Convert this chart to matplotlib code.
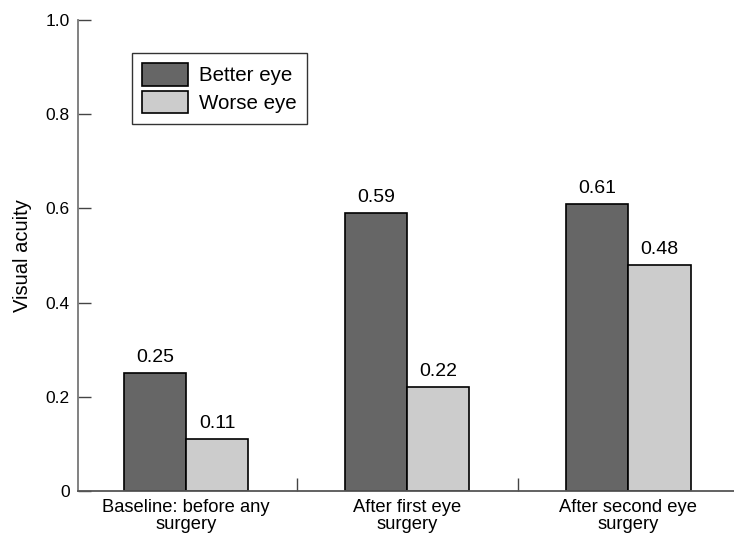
import matplotlib
matplotlib.use("Agg")
import matplotlib.pyplot as plt
import numpy as np

categories = ["Baseline: before any\nsurgery", "After first eye\nsurgery", "After second eye\nsurgery"]
series_names = ["Better eye", "Worse eye"]
better_eye = [0.25, 0.59, 0.61]
worse_eye = [0.11, 0.22, 0.48]
value_labels_better = ["0.25", "0.59", "0.61"]
value_labels_worse = ["0.11", "0.22", "0.48"]
y_ticks = [0, 0.2, 0.4, 0.6, 0.8, 1.0]
y_tick_labels = ["0", "0.2", "0.4", "0.6", "0.8", "1.0"]

plt.rcParams['font.family'] = ['Liberation Sans', 'DejaVu Sans']

fig = plt.figure(figsize=(7.34, 5.35), dpi=100)
ax = fig.add_axes([78/734, 44/535, 656/734, 471/535])

x = np.arange(len(categories))
w = 0.2817
dark = "#666666"
light = "#cccccc"
b1 = ax.bar(x - w/2, better_eye, w, color=dark, edgecolor="black", linewidth=1.2, label=series_names[0])
b2 = ax.bar(x + w/2, worse_eye, w, color=light, edgecolor="black", linewidth=1.2, label=series_names[1])

for rect, lab in zip(b1, value_labels_better):
    ax.annotate(lab, (rect.get_x() + rect.get_width()/2, rect.get_height()),
                xytext=(0, 5), textcoords="offset points", ha="center", va="bottom", fontsize=14)
for rect, lab in zip(b2, value_labels_worse):
    ax.annotate(lab, (rect.get_x() + rect.get_width()/2, rect.get_height()),
                xytext=(0, 5), textcoords="offset points", ha="center", va="bottom", fontsize=14)

ax.set_xlim(-0.488, 2.478)
ax.set_ylim(0, 1.0)
ax.set_yticks(y_ticks)
ax.set_yticklabels(y_tick_labels, fontsize=12.5)
ax.set_xticks(x)
ax.set_xticklabels(categories, fontsize=13.2, linespacing=1.0)
ax.set_xticks([0.5, 1.5], minor=True)

ax.tick_params(axis='y', direction='in', length=9.6, width=1.0, color='#444444', pad=6)
ax.tick_params(axis='x', which='major', length=0, pad=6)
ax.tick_params(axis='x', which='minor', direction='in', length=9.6, width=1.0, color='#444444')

for s in ['top', 'right']:
    ax.spines[s].set_visible(False)
ax.spines['left'].set_color('#777777')
ax.spines['bottom'].set_color('#555555')
ax.spines['left'].set_linewidth(1.3)
ax.spines['bottom'].set_linewidth(1.3)

ax.set_ylabel("Visual acuity", fontsize=14.5, labelpad=10)

leg = ax.legend(loc='upper left', bbox_to_anchor=((132-78)/656, (491-53)/471), borderaxespad=0,
                fontsize=14.8, frameon=True, fancybox=False, edgecolor='black',
                handlelength=2.2, handleheight=1.3, handletextpad=0.55, labelspacing=0.25,
                borderpad=0.5)
leg.get_frame().set_linewidth(1.0)

fig.savefig("out.png", dpi=100)
